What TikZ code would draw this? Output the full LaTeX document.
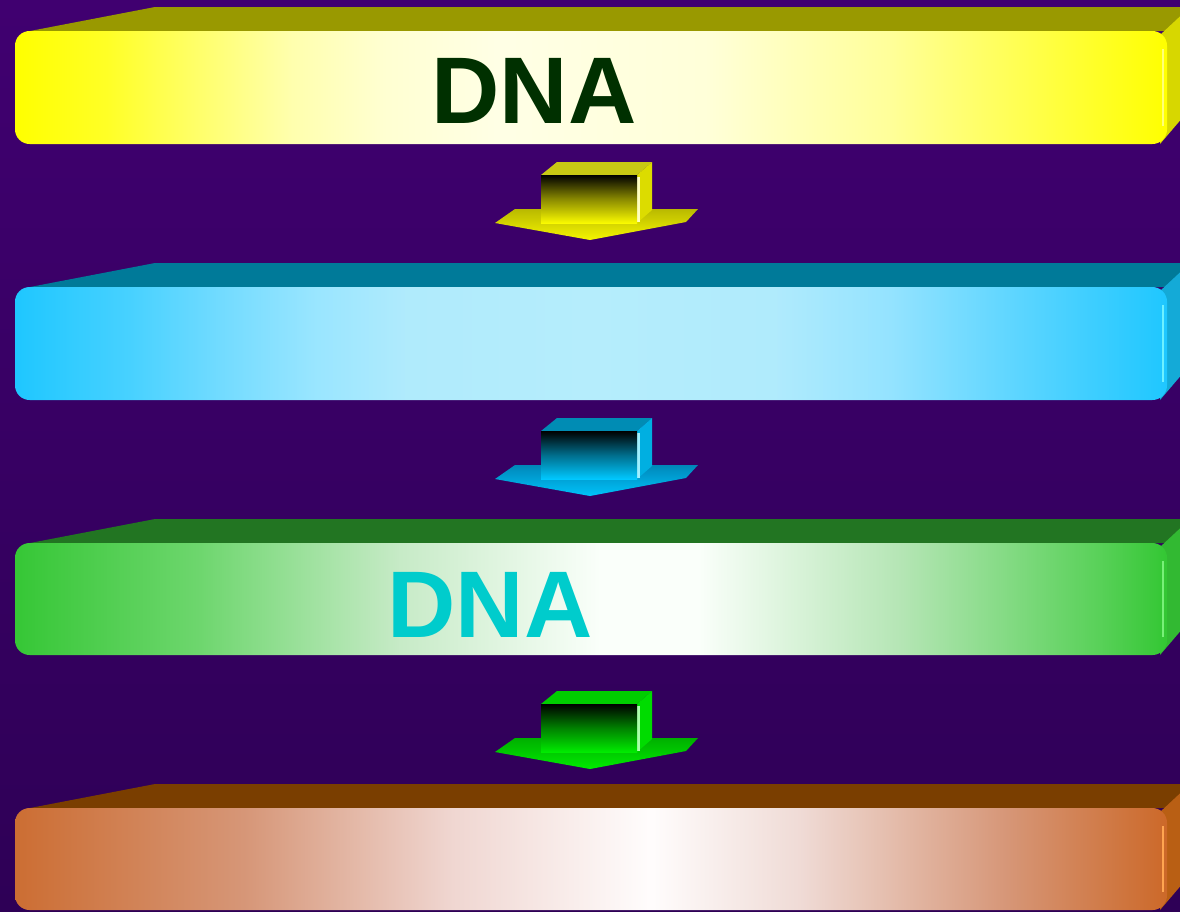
\documentclass[tikz,border=0pt]{standalone}
\usepackage{fontspec}
\setmainfont{Liberation Sans}

% horizontal face shadings (central 25bp..75bp span the face)
\pgfdeclarehorizontalshading{yellowface}{100bp}{rgb(0bp)=(1,1,0); rgb(25bp)=(1,1,0); rgb(29bp)=(1,1,0.15); rgb(33bp)=(1,1,0.42); rgb(37bp)=(1,1,0.68); rgb(41bp)=(1,1,0.82); rgb(46bp)=(1,1,0.9); rgb(55bp)=(1,1,0.85); rgb(63bp)=(1,1,0.6); rgb(70bp)=(1,1,0.25); rgb(75bp)=(1,1,0); rgb(100bp)=(1,1,0)}
\pgfdeclarehorizontalshading{cyanface}{100bp}{rgb(0bp)=(0.12,0.78,1); rgb(25bp)=(0.12,0.78,1); rgb(30bp)=(0.28,0.82,1); rgb(34bp)=(0.45,0.86,1); rgb(38bp)=(0.6,0.9,1); rgb(42bp)=(0.69,0.92,0.99); rgb(50bp)=(0.71,0.93,0.99); rgb(58bp)=(0.69,0.92,0.99); rgb(63bp)=(0.58,0.89,1); rgb(68bp)=(0.38,0.84,1); rgb(75bp)=(0.12,0.78,1); rgb(100bp)=(0.12,0.78,1)}
\pgfdeclarehorizontalshading{greenface}{100bp}{rgb(0bp)=(0.21,0.78,0.21); rgb(25bp)=(0.21,0.78,0.21); rgb(33bp)=(0.43,0.84,0.43); rgb(41.7bp)=(0.78,0.92,0.78); rgb(50.4bp)=(0.98,1,0.98); rgb(54.7bp)=(0.98,1,0.98); rgb(63.4bp)=(0.71,0.9,0.71); rgb(72bp)=(0.35,0.82,0.35); rgb(75bp)=(0.2,0.78,0.2); rgb(100bp)=(0.2,0.78,0.2)}
\pgfdeclarehorizontalshading{orangeface}{100bp}{rgb(0bp)=(0.8,0.43,0.2); rgb(25bp)=(0.8,0.43,0.2); rgb(35bp)=(0.84,0.59,0.47); rgb(44bp)=(0.94,0.84,0.82); rgb(52.6bp)=(1,0.99,0.99); rgb(59bp)=(0.94,0.86,0.84); rgb(68bp)=(0.84,0.59,0.47); rgb(75bp)=(0.8,0.41,0.16); rgb(100bp)=(0.8,0.41,0.16)}

\definecolor{bgtop}{RGB}{64,0,112}
\definecolor{bgbot}{RGB}{46,0,86}
\definecolor{dnadark}{RGB}{0,48,0}
\definecolor{dnacyan}{RGB}{0,204,204}
% slab colours: top face, side face, edge highlight
\definecolor{ytop}{RGB}{153,153,0}
\definecolor{yside}{RGB}{215,215,0}
\definecolor{yhi}{RGB}{255,255,120}
\definecolor{ctop}{RGB}{0,122,153}
\definecolor{cside}{RGB}{20,170,215}
\definecolor{chi}{RGB}{110,240,255}
\definecolor{gtop}{RGB}{34,117,34}
\definecolor{gside}{RGB}{50,185,50}
\definecolor{ghi}{RGB}{120,240,120}
\definecolor{otop}{RGB}{122,62,0}
\definecolor{oside}{RGB}{185,95,20}
\definecolor{ohi}{RGB}{255,165,80}
% block arrow colours: plate back, plate front, top, front bright, side, highlight
\definecolor{yaPb}{RGB}{185,185,0}
\definecolor{yaPf}{RGB}{245,245,0}
\definecolor{yaT}{RGB}{200,200,20}
\definecolor{yaF}{RGB}{250,250,0}
\definecolor{yaS}{RGB}{220,220,0}
\definecolor{yaH}{RGB}{255,255,190}
\definecolor{caPb}{RGB}{0,135,185}
\definecolor{caPf}{RGB}{0,195,250}
\definecolor{caT}{RGB}{0,140,180}
\definecolor{caF}{RGB}{0,200,255}
\definecolor{caS}{RGB}{0,175,225}
\definecolor{caH}{RGB}{160,240,255}
\definecolor{gaPb}{RGB}{0,175,0}
\definecolor{gaPf}{RGB}{0,235,0}
\definecolor{gaT}{RGB}{0,205,0}
\definecolor{gaF}{RGB}{0,235,0}
\definecolor{gaS}{RGB}{0,220,0}
\definecolor{gaH}{RGB}{170,255,170}

% a slab: front top y, front bottom y, shading, top colour, side colour, edge highlight
\newcommand\slab[6]{%
  \fill[#4] (30,#1) -- (155,#1-24) -- (1189,#1-24) -- (1189,#1) -- cycle;
  \fill[#5] (1160,#1+4) -- (1189,#1-23) -- (1189,#2-34) -- (1160,#2) -- cycle;
  \shade[shading=#3, rounded corners=11pt] (15,#1) rectangle (1167,#2);
  \draw[#6, line width=1.3pt] (1163,#1+18) -- (1163,#2-18);
}

% a block arrow, shifted down by #1: plate back/front, top, front bright, side, highlight
\newcommand\chute[7]{%
  \begin{scope}[shift={(0,#1)}]
    \shade[top color=#2, bottom color=#3] (495,223) -- (515,209) -- (698,209) -- (686,222) -- (590,240) -- cycle;
    \fill[#4] (541,175) -- (557,162) -- (652,162) -- (637,175) -- cycle;
    \fill[#6] (637,175) -- (652,162) -- (652,210) -- (637,223) -- cycle;
    \fill[#7] (637,177) rectangle (639.5,222);
    \shade[top color=black, bottom color=#5, middle color=#5!55!black] (541,175) rectangle (637,223);
  \end{scope}
}

\begin{document}
\begin{tikzpicture}[x=0.75pt, y=-0.75pt,
  dnatext/.style={font=\fontsize{71}{80}\selectfont\bfseries, anchor=base, inner sep=0pt}]
  \useasboundingbox (0,0) rectangle (1180,911);
  \clip (0,0) rectangle (1180,911);
  \shade[top color=bgtop, bottom color=bgbot] (0,0) rectangle (1180,911);

  % four slabs
  \slab{31}{144}{yellowface}{ytop}{yside}{yhi}
  \slab{287}{400}{cyanface}{ctop}{cside}{chi}
  \slab{543}{655}{greenface}{gtop}{gside}{ghi}
  \slab{808}{910}{orangeface}{otop}{oside}{ohi}

  % three block arrows
  \chute{0}{yaPb}{yaPf}{yaT}{yaF}{yaS}{yaH}
  \chute{256}{caPb}{caPf}{caT}{caF}{caS}{caH}
  \chute{529}{gaPb}{gaPf}{gaT}{gaF}{gaS}{gaH}

  % labels
  \node[dnatext, text=dnadark] (dnaTop) at (534,123) {DNA};
  \node[dnatext, text=dnacyan] (dnaMid) at (490,637) {DNA};
\end{tikzpicture}
\end{document}
